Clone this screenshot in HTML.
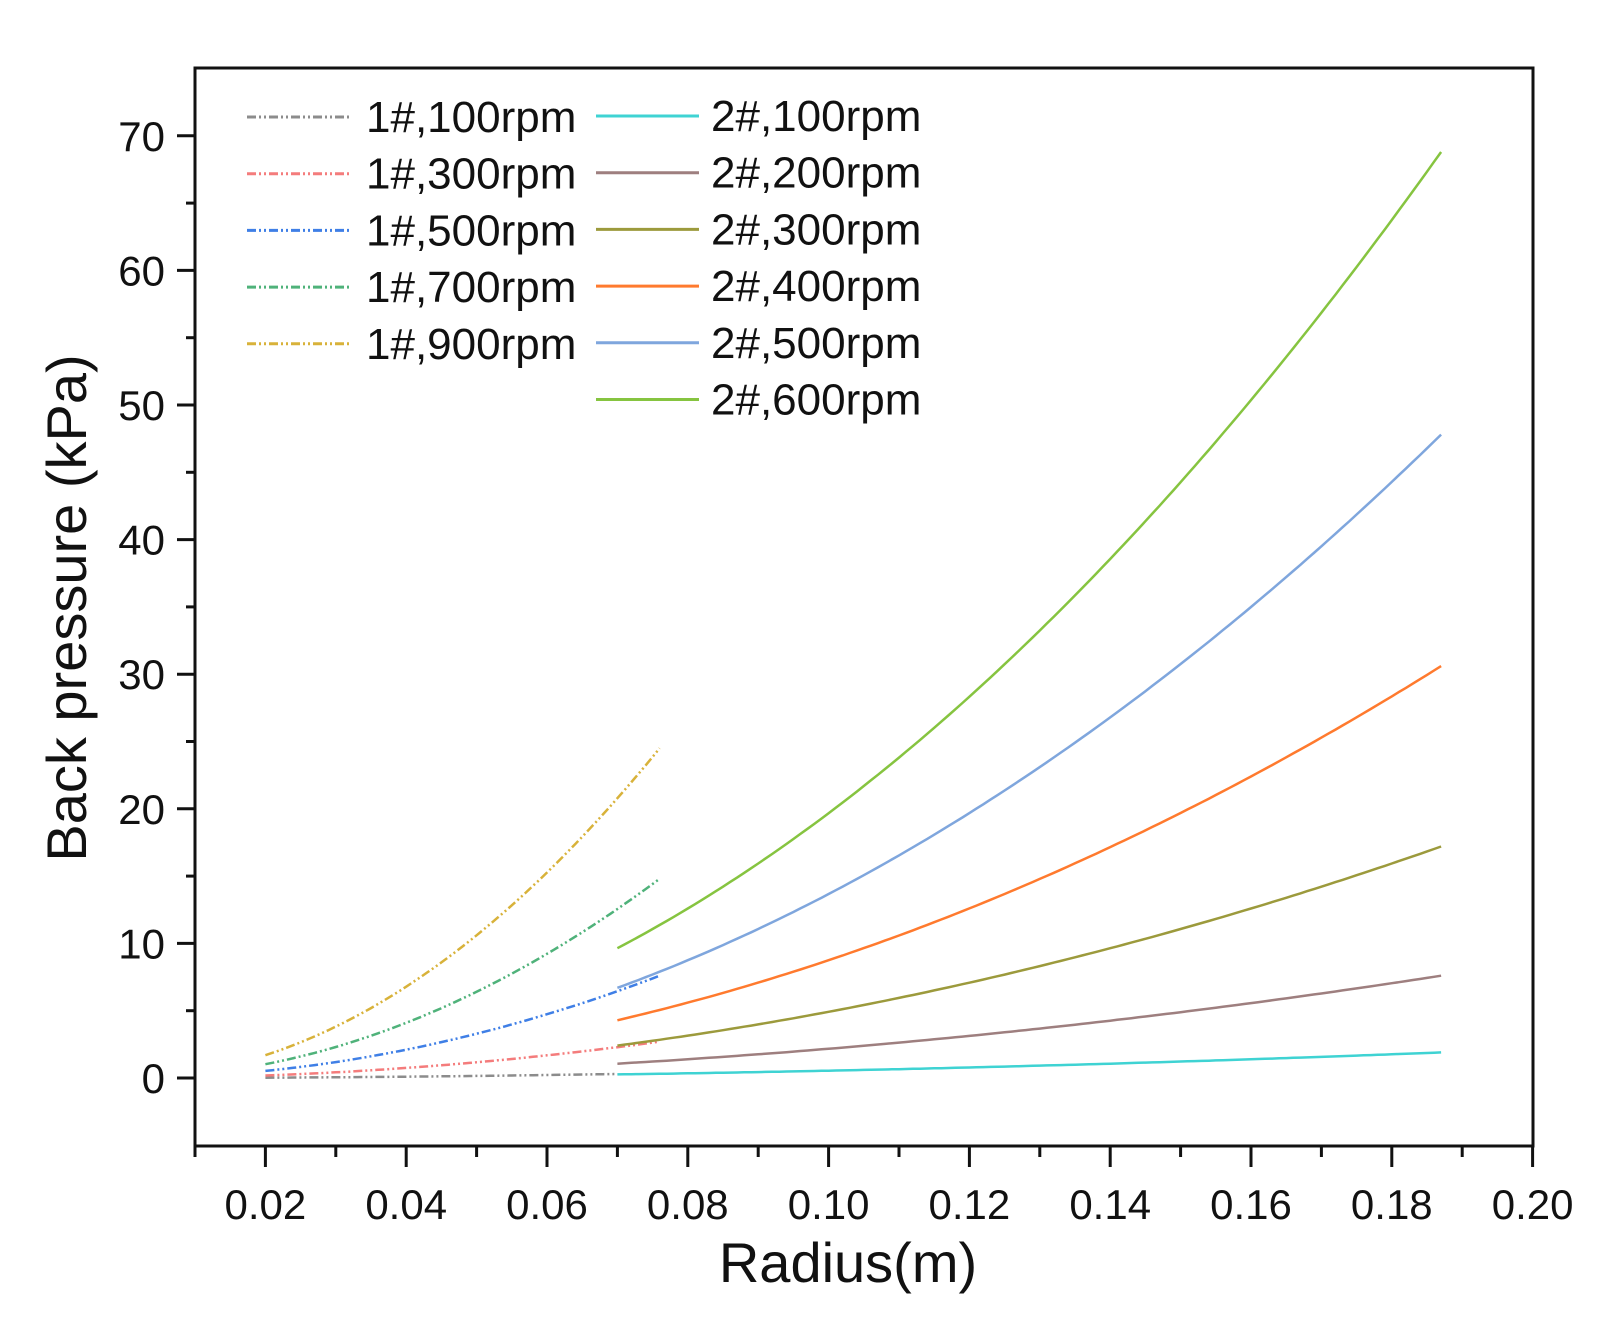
<!DOCTYPE html>
<html><head><meta charset="utf-8"><style>body{margin:0;background:#fff}svg{display:block}</style></head>
<body>
<svg xmlns="http://www.w3.org/2000/svg" width="1609" height="1318" viewBox="0 0 1609 1318" font-family="Liberation Sans, Arial, sans-serif">
<rect width="1609" height="1318" fill="#fff"/>
<g id="curves" fill="none" stroke-width="2.5"></g>
<g stroke="#111" stroke-width="3" fill="none">
<rect x="195" y="68" width="1338" height="1078"/>
</g>
<g id="ticks" stroke="#111" stroke-width="3"></g>
<g id="labels" font-size="42" fill="#111"></g>
<text x="848" y="1282" font-size="56" text-anchor="middle" fill="#111">Radius(m)</text>
<text transform="translate(86,608) rotate(-90)" font-size="56" text-anchor="middle" fill="#111">Back pressure (kPa)</text>
<g id="legend" font-size="44" fill="#111"></g>
<script>
const NS="http://www.w3.org/2000/svg";
const SP=70.4;
const X=r=>195+(r-0.01)/0.01*SP, Y=p=>1078-p*13.46;
function el(t,a,parent,txt){const e=document.createElementNS(NS,t);for(const k in a)e.setAttribute(k,a[k]);if(txt!==undefined)e.textContent=txt;document.getElementById(parent).appendChild(e);return e;}
const dash="9,3,2,3,2,3";
const s1=[["#8c8c8c",0.3,0.07],["#f47c7c",2.7,0.076],["#3f7fe6",7.6,0.076],["#4fb27a",14.8,0.076],["#d8b23a",24.5,0.076]];
s1.forEach(([c,pe,re])=>{const k=pe/(re*re);let d="";for(let r=0.02;r<=re+1e-9;r+=0.001){d+=(d?"L":"M")+X(r).toFixed(1)+","+Y(k*r*r).toFixed(1);}el("path",{d,stroke:c,"stroke-dasharray":dash},"curves");});
const s2=[["#3fd3d3",1.9],["#9e7f7f",7.6],["#9c9a3c",17.2],["#ff7a2e",30.6],["#7fa6dd",47.8],["#86c440",68.8]];
s2.forEach(([c,pe])=>{const k=pe/(0.187*0.187);let d="";for(let r=0.07;r<=0.1871;r+=0.001){d+=(d?"L":"M")+X(r).toFixed(1)+","+Y(k*r*r).toFixed(1);}el("path",{d,stroke:c},"curves");});
for(let v=0;v<=70;v+=5){const y=Y(v);el("line",{x1:v%10?186:177,x2:195,y1:y,y2:y},"ticks");if(v%10==0)el("text",{x:165,y:y+15,"text-anchor":"end"},"labels",String(v));}
for(let i=1;i<=20;i++){const x=195+(i-1)*SP;el("line",{x1:x,x2:x,y1:1146,y2:i%2?1157:1167},"ticks");if(i%2==0)el("text",{x:x,y:1219,"text-anchor":"middle"},"labels",(i/100).toFixed(2));}
const l1=["1#,100rpm","1#,300rpm","1#,500rpm","1#,700rpm","1#,900rpm"],l2=["2#,100rpm","2#,200rpm","2#,300rpm","2#,400rpm","2#,500rpm","2#,600rpm"];
l1.forEach((t,i)=>{const y=117+i*56.7;el("line",{x1:247,x2:351,y1:y,y2:y,stroke:s1[i][0],"stroke-width":3,"stroke-dasharray":dash},"legend");el("text",{x:366,y:y+15},"legend",t);});
l2.forEach((t,i)=>{const y=116+i*56.7;el("line",{x1:596,x2:699,y1:y,y2:y,stroke:s2[i][0],"stroke-width":3},"legend");el("text",{x:711,y:y+15},"legend",t);});
</script>
</svg>
</body></html>
